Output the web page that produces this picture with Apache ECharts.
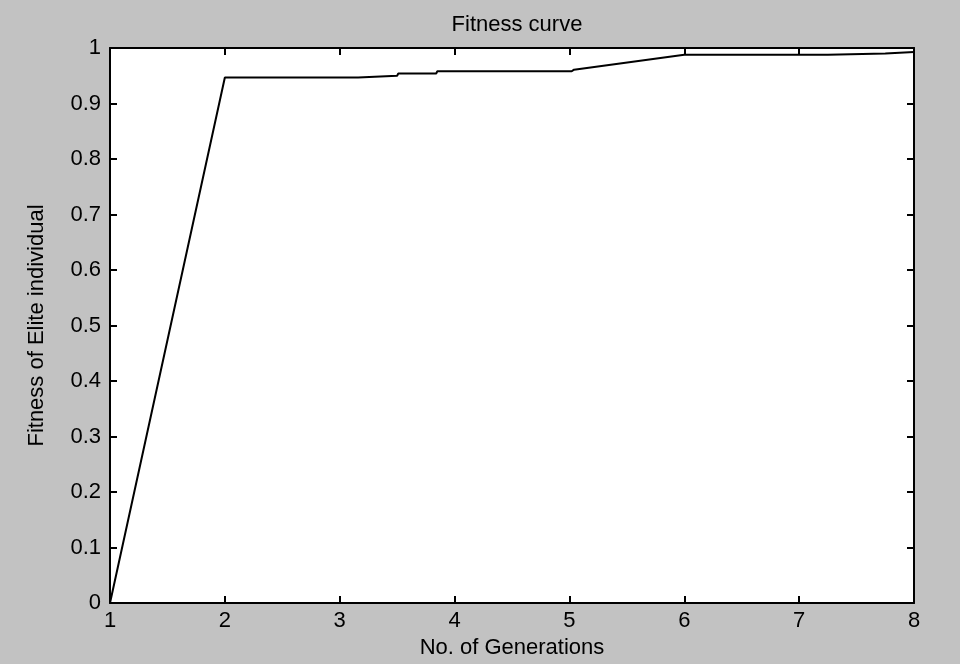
<!DOCTYPE html>
<html>
<head>
<meta charset="utf-8">
<script src="https://cdn.jsdelivr.net/npm/echarts@6/dist/echarts.min.js"></script>
<style>
  html, body { margin: 0; padding: 0; }
  #chart { width: 960px; height: 664px; }
</style>
</head>
<body>
<div id="chart"></div>
<script>
// generation number (x) and fitness of the elite individual (y)
const generations = [1, 2, 3.16, 3.17, 3.5, 3.51, 3.84, 3.85, 5.02, 5.04, 6, 7.25, 7.26, 7.75, 7.76, 8];
const eliteFitness = [0, 0.947, 0.947, 0.950, 0.950, 0.954, 0.954, 0.958, 0.958, 0.961, 0.988, 0.988, 0.990, 0.990, 0.993, 0.993];

const chart = echarts.init(document.getElementById('chart'));

const font = '"Liberation Sans", Arial, sans-serif';
const txt = { fontFamily: font, fontSize: 22, color: '#000' };

// axis box like matlab: ticks inside on all four sides
const boxAxis = (extra) => Object.assign({
  type: 'value',
  axisLine: { show: true, onZero: false, lineStyle: { color: '#000', width: 2 } },
  axisTick: { show: true, inside: true, length: 7, lineStyle: { color: '#000', width: 2 } },
  splitLine: { show: false }
}, extra);

chart.setOption({
  backgroundColor: '#c2c2c2',
  animation: false,
  title: {
    text: 'Fitness curve',
    left: 512,
    top: 9,
    textAlign: 'center',
    textStyle: Object.assign({ fontWeight: 'normal' }, txt)
  },
  grid: {
    left: 110, right: 46, top: 48, bottom: 60,
    show: true, backgroundColor: '#fff', borderWidth: 0
  },
  xAxis: [
    boxAxis({
      position: 'bottom', min: 1, max: 8, interval: 1,
      name: 'No. of Generations', nameLocation: 'middle', nameGap: 34,
      nameTextStyle: txt,
      axisLabel: Object.assign({ margin: 7 }, txt)
    }),
    boxAxis({ position: 'top', min: 1, max: 8, interval: 1, axisLabel: { show: false } })
  ],
  yAxis: [
    boxAxis({
      position: 'left', min: 0, max: 1, interval: 0.1,
      name: 'Fitness of Elite individual', nameLocation: 'middle', nameGap: 62,
      nameTextStyle: txt,
      axisLabel: Object.assign({ margin: 9 }, txt)
    }),
    boxAxis({ position: 'right', min: 0, max: 1, interval: 0.1, axisLabel: { show: false } })
  ],
  series: [{
    type: 'line',
    data: generations.map((g, i) => [g, eliteFitness[i]]),
    showSymbol: false,
    lineStyle: { color: '#000', width: 2 },
    z: 1
  }]
});
</script>
</body>
</html>
